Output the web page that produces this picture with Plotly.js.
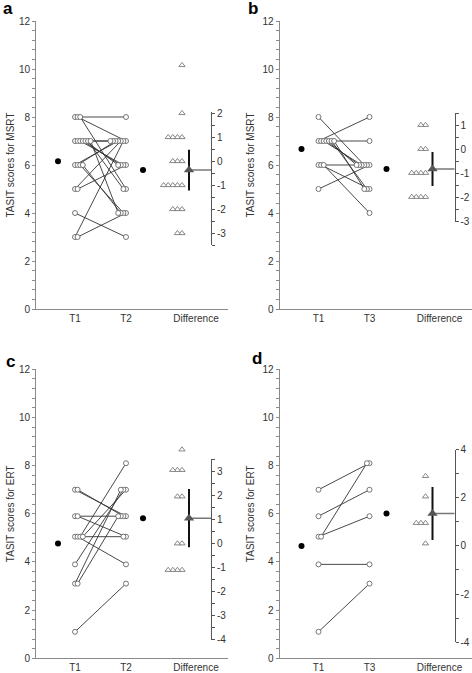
<!DOCTYPE html>
<html><head><meta charset="utf-8">
<script src="https://cdn.plot.ly/plotly-3.0.1.min.js"></script>
<style>html,body{margin:0;padding:0;background:#fff}#chart{width:472px;height:673px}</style>
</head><body><div id="chart"></div>
<script>
// ---------------- data ----------------
const catsT2 = ['T1', 'T2', 'Difference'];
const catsT3 = ['T1', 'T3', 'Difference'];
const panelLetters = ['a', 'b', 'c', 'd'];
const yTitles = ['TASIT scores for MSRT', 'TASIT scores for MSRT', 'TASIT scores for ERT', 'TASIT scores for ERT'];
const leftTicks = [0, 2, 4, 6, 8, 10, 12];

// a: MSRT, T1 vs T2 (paired)
const t1A = [8, 8, 8, 3, 3, 4, 5, 5, 6, 6, 7, 7, 7, 7, 7, 7, 6, 6, 7];
const t2A = [8, 7, 5, 7, 4, 3, 7, 6, 7, 7, 7, 7, 6, 6, 6, 5, 4, 4, 4];
const diffA = [4, 2, 1, 1, 1, 1, 0, 0, 0, -1, -1, -1, -1, -1, -2, -2, -2, -3, -3];
const ciA = [-1.22, 0.48];
const diffTicksA = [-3, -2, -1, 0, 1, 2];
const diffRangeA = [-3.5, 2.05];

// b: MSRT, T1 vs T3
const t1B = [5, 7, 7, 6, 8, 7, 7, 7, 6, 7, 7, 6];
const t3B = [6, 8, 7, 6, 6, 6, 6, 6, 5, 5, 5, 4];
const diffB = [1, 1, 0, 0, -1, -1, -1, -1, -2, -2, -2, -2];
const ciB = [-1.54, -0.12];
const diffTicksB = [-3, -2, -1, 0, 1];
const diffRangeB = [-3.05, 1.5];

// c: ERT, T1 vs T2
const t1C = [7, 7, 5.9, 5.9, 5.05, 5.05, 5.05, 5.05, 3.9, 3.1, 3.1, 1.1];
const t2C = [5.9, 5.9, 5.9, 5.05, 5.05, 3.9, 8.1, 7, 7, 7, 5.9, 3.1];
const diffC = [3.9, 3.05, 3.05, 3.05, 1.95, 1.95, 0, 0, -1.1, -1.1, -1.1, -1.1];
const ciC = [-0.16, 2.26];
const diffTicksC = [-4, -3, -2, -1, 0, 1, 2, 3];
const diffRangeC = [-4, 3.5];

// d: ERT, T1 vs T3
const t1D = [7, 5.9, 5.05, 5.05, 3.9, 1.1];
const t3D = [8.1, 7, 5.9, 8.1, 3.9, 3.1];
const diffD = [2.9, 2.05, 0.95, 0.95, 0.95, 0.1];
const ciD = [0.25, 2.45];
const diffTicksD = [-4, -2, 0, 2, 4];
const diffRangeD = [-4, 4];

// ---------------- layout constants ----------------
const W = 472, H = 673;
const FONT = '"Liberation Sans Narrow", "Liberation Sans", Arial, sans-serif';
const BOLD = '"Liberation Sans", Arial, sans-serif';
const geom = [
  {ax: 36, top: 21, bot: 309, lx: 0.5, ly: 9, so: 2},
  {ax: 279.5, top: 21, bot: 309, lx: 246, ly: 9, so: 5},
  {ax: 36, top: 369.3, bot: 658.3, lx: 4, ly: 361, so: 2},
  {ax: 279.5, top: 369.3, bot: 658.3, lx: 250, ly: 358, so: 5}
];
// horizontal positions inside a panel, px from the left axis
const POS = {m1: 22, t1: 39, t2: 90, m2: 107, triRight: 146, triMean: 153, diffAxis: 175, label: 160, span: 192, circStep: 2.6, triStep: 4.6};

const panels = [
  {t1: t1A, t2: t2A, diff: diffA, ci: ciA, cats: catsT2, ticks: diffTicksA, range: diffRangeA, minor: 0.5},
  {t1: t1B, t2: t3B, diff: diffB, ci: ciB, cats: catsT3, ticks: diffTicksB, range: diffRangeB, minor: 0.5},
  {t1: t1C, t2: t2C, diff: diffC, ci: ciC, cats: catsT2, ticks: diffTicksC, range: diffRangeC, minor: 0.5},
  {t1: t1D, t2: t3D, diff: diffD, ci: ciD, cats: catsT3, ticks: diffTicksD, range: diffRangeD, minor: 1}
];

const mean = a => a.reduce((s, v) => s + v, 0) / a.length;
function jitter(vals, base, step, dir) {
  const seen = {};
  return vals.map(v => { const k = seen[v] || 0; seen[v] = k + 1; return base + dir * k * step; });
}

const AXC = '#8a8a8a', TXT = '#333333';
const data = [];
const layout = {
  width: W, height: H, margin: {l: 0, r: 0, t: 0, b: 0},
  paper_bgcolor: '#fff', plot_bgcolor: 'rgba(0,0,0,0)', showlegend: false,
  font: {family: FONT, size: 10, color: TXT},
  annotations: []
};

panels.forEach((p, i) => {
  const g = geom[i];
  const xn = i + 1, yl = 2 * i + 1, yr = 2 * i + 2;
  const xk = 'xaxis' + (xn === 1 ? '' : xn), xr = 'x' + (xn === 1 ? '' : xn);
  const ylk = 'yaxis' + (yl === 1 ? '' : yl), ylr = 'y' + (yl === 1 ? '' : yl);
  const yrk = 'yaxis' + yr, yrr = 'y' + yr;
  const fy = py => 1 - py / H;
  const yDom = [fy(g.bot), fy(g.top)];
  const leftVal = v => fy(g.bot - v * (g.bot - g.top) / 12);
  const m1 = mean(p.t1), m2 = mean(p.t2), md = m2 - m1;

  layout[xk] = {
    domain: [g.ax / W, (g.ax + POS.span) / W], range: [0, POS.span], anchor: ylr,
    showline: true, linecolor: AXC, linewidth: 1, showgrid: false, zeroline: false,
    tickmode: 'array', tickvals: [POS.t1, POS.t2, POS.label], ticktext: p.cats,
    ticks: '', tickfont: {family: FONT, size: 10, color: TXT}, fixedrange: true
  };
  layout[ylk] = {
    domain: yDom, range: [0, 12], anchor: xr,
    showline: true, linecolor: AXC, linewidth: 1, showgrid: false, zeroline: false,
    tickmode: 'array', tickvals: leftTicks, ticktext: leftTicks.map(String),
    ticks: 'outside', ticklen: 3, tickcolor: AXC,
    minor: {tickmode: 'linear', tick0: 0, dtick: 0.4, ticks: 'outside', ticklen: 3, tickcolor: AXC},
    tickfont: {family: FONT, size: 10, color: TXT},
    title: {text: yTitles[i], font: {family: FONT, size: 10, color: TXT}, standoff: g.so},
    fixedrange: true
  };
  // difference axis: same scale as the left axis, zero aligned with the T1 mean
  layout[yrk] = {
    domain: [leftVal(m1 + p.range[0]), leftVal(m1 + p.range[1])], range: p.range,
    anchor: 'free', position: (g.ax + POS.diffAxis) / W, side: 'right',
    showline: true, linecolor: '#555', linewidth: 1, showgrid: false, zeroline: false,
    tickmode: 'array', tickvals: p.ticks, ticktext: p.ticks.map(String),
    ticks: 'outside', ticklen: 3, tickcolor: '#555',
    minor: {tickmode: 'linear', tick0: 0, dtick: p.minor, ticks: 'outside', ticklen: 3, tickcolor: '#555'},
    tickfont: {family: FONT, size: 10, color: TXT}, fixedrange: true
  };

  // paired lines
  const j1 = jitter(p.t1, POS.t1, POS.circStep, 1);
  const j2 = jitter(p.t2, POS.t2, POS.circStep, -1);
  const lx = [], ly = [];
  p.t1.forEach((v, k) => { lx.push(j1[k], j2[k], null); ly.push(v, p.t2[k], null); });
  data.push({type: 'scatter', mode: 'lines', x: lx, y: ly, xaxis: xr, yaxis: ylr,
    line: {color: '#333', width: 0.9}, hoverinfo: 'skip'});
  // circles
  data.push({type: 'scatter', mode: 'markers', x: j1.concat(j2), y: p.t1.concat(p.t2), xaxis: xr, yaxis: ylr,
    marker: {symbol: 'circle', size: 5, color: '#fff', line: {color: '#666', width: 0.9}}, hoverinfo: 'skip'});
  // group means
  data.push({type: 'scatter', mode: 'markers', x: [POS.m1, POS.m2], y: [m1, m2], xaxis: xr, yaxis: ylr,
    marker: {symbol: 'circle', size: 6, color: '#000'}, hoverinfo: 'skip'});

  // individual differences, drawn on the left scale relative to the T1 mean
  const jd = jitter(p.diff, POS.triRight, POS.triStep, -1);
  data.push({type: 'scatter', mode: 'markers', x: jd, y: p.diff.map(d => m1 + d), xaxis: xr, yaxis: ylr,
    marker: {symbol: 'triangle-up', size: 5.5, color: '#fff', line: {color: '#7a7a7a', width: 0.9}}, hoverinfo: 'skip'});
  // mean difference with 95% CI on the difference axis
  data.push({type: 'scatter', mode: 'lines', x: [POS.triMean, POS.diffAxis], y: [md, md], xaxis: xr, yaxis: yrr, cliponaxis: false,
    line: {color: '#777', width: 1.5}, hoverinfo: 'skip'});
  data.push({type: 'scatter', mode: 'lines', x: [POS.triMean, POS.triMean], y: p.ci, xaxis: xr, yaxis: yrr, cliponaxis: false,
    line: {color: '#111', width: 2}, hoverinfo: 'skip'});
  data.push({type: 'scatter', mode: 'markers', x: [POS.triMean], y: [md], xaxis: xr, yaxis: yrr, cliponaxis: false,
    marker: {symbol: 'triangle-up', size: 9, color: '#555'}, hoverinfo: 'skip'});

  layout.annotations.push({text: '<b>' + panelLetters[i] + '</b>', xref: 'paper', yref: 'paper',
    x: g.lx / W, y: 1 - g.ly / H, xanchor: 'left', yanchor: 'middle', showarrow: false,
    font: {family: BOLD, size: 17, color: '#000'}});
});

Plotly.newPlot('chart', data, layout, {staticPlot: true, displayModeBar: false});
</script></body></html>
